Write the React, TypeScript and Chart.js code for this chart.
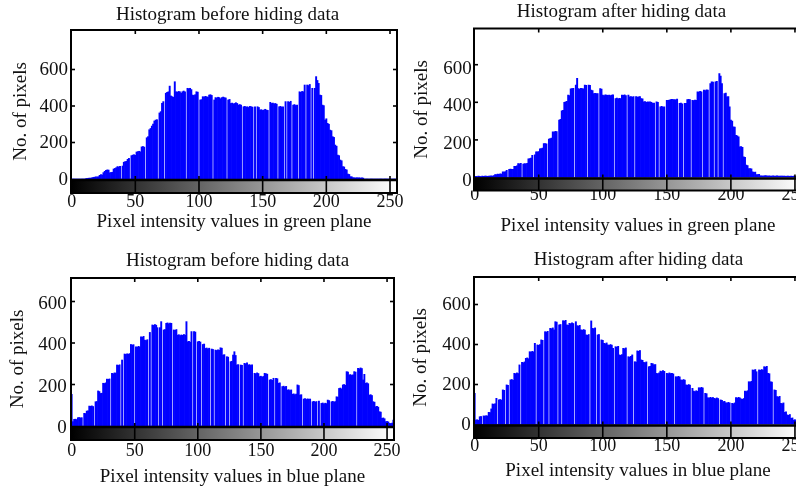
import React, { useEffect, useRef } from "react";
import { Chart, registerables } from "chart.js";

Chart.register(...registerables);

// Intensity bins 0..255
const BINS: number[] = Array.from({ length: 256 }, (_, i) => i);
const X_TICKS = [0, 50, 100, 150, 200, 250];
const Y_TICKS = [0, 200, 400, 600];

// Green plane, before hiding
const GREEN_BEFORE = [
  0, 0, 0, 0, 0, 0, 0, 0, 0, 0, 0, 2, 3, 4, 5, 5,
  6, 9, 10, 12, 11, 13, 20, 24, 22, 35, 42, 47, 50, 49, 34, 36,
  37, 55, 58, 62, 68, 66, 70, 0, 71, 92, 95, 97, 108, 113, 0, 128,
  131, 133, 130, 148, 150, 152, 149, 176, 178, 175, 0, 226, 232, 270, 277, 290,
  301, 318, 323, 325, 0, 362, 369, 415, 424, 0, 470, 475, 478, 509, 455, 451,
  448, 533, 478, 476, 480, 478, 470, 478, 482, 478, 0, 497, 495, 497, 490, 460,
  458, 462, 478, 476, 0, 433, 435, 451, 449, 453, 451, 448, 460, 462, 458, 0,
  433, 446, 444, 448, 446, 440, 446, 449, 446, 444, 0, 433, 436, 414, 416, 412,
  414, 418, 414, 405, 408, 405, 0, 396, 398, 394, 396, 392, 398, 396, 394, 0,
  396, 0, 396, 392, 378, 380, 376, 378, 382, 378, 376, 0, 420, 414, 416, 412,
  414, 410, 0, 396, 398, 394, 396, 0, 424, 0, 424, 420, 426, 0, 405, 408,
  403, 405, 0, 478, 475, 480, 478, 515, 0, 515, 512, 518, 0, 497, 0, 497,
  561, 540, 524, 460, 458, 405, 402, 323, 330, 305, 300, 268, 265, 232, 228, 186,
  180, 131, 128, 104, 100, 68, 66, 53, 50, 27, 25, 13, 12, 7, 7, 6,
  7, 6, 7, 5, 6, 5, 0, 0, 0, 0, 0, 0, 0, 0, 0, 0,
  0, 0, 0, 0, 0, 0, 0, 0, 0, 0, 0, 0, 0, 0, 0, 0,
];

// Green plane, after hiding
const GREEN_AFTER = [
  5, 6, 5, 7, 6, 5, 7, 6, 8, 7, 6, 8, 7, 9, 8, 10,
  16, 15, 18, 17, 19, 18, 30, 29, 31, 38, 0, 44, 45, 43, 44, 59,
  60, 62, 74, 73, 75, 0, 71, 74, 73, 76, 100, 101, 103, 118, 0, 120,
  137, 136, 138, 152, 154, 156, 180, 181, 179, 0, 205, 207, 210, 243, 242, 246,
  244, 0, 305, 310, 355, 358, 400, 402, 405, 438, 436, 472, 473, 475, 0, 491,
  527, 473, 470, 475, 473, 472, 491, 490, 0, 492, 490, 465, 462, 447, 448, 447,
  446, 0, 473, 470, 438, 436, 440, 438, 437, 439, 436, 438, 440, 0, 420, 422,
  419, 421, 420, 438, 437, 440, 436, 0, 438, 429, 430, 428, 431, 0, 430, 428,
  429, 431, 420, 418, 402, 404, 400, 402, 401, 403, 400, 394, 396, 0, 402, 400,
  0, 376, 378, 374, 376, 0, 411, 410, 412, 415, 416, 414, 415, 413, 417, 0,
  394, 396, 392, 0, 394, 395, 415, 416, 414, 0, 411, 409, 412, 410, 456, 455,
  458, 456, 0, 465, 463, 466, 465, 0, 500, 509, 507, 0, 509, 511, 0, 553,
  540, 500, 0, 447, 449, 429, 431, 376, 305, 300, 269, 268, 225, 222, 216, 163,
  165, 160, 110, 108, 66, 64, 48, 47, 46, 30, 28, 29, 16, 15, 17, 9,
  9, 8, 9, 10, 9, 8, 9, 7, 8, 9, 8, 7, 9, 8, 7, 8,
  7, 8, 7, 6, 7, 8, 6, 7, 6, 7, 5, 6, 7, 6, 5, 6,
];

// Blue plane, before hiding
const BLUE_BEFORE = [
  153, 21, 32, 33, 31, 40, 41, 39, 40, 0, 61, 60, 72, 73, 96, 95,
  97, 94, 0, 117, 118, 169, 166, 157, 158, 206, 205, 208, 226, 225, 227, 0,
  254, 252, 256, 255, 294, 292, 295, 0, 318, 0, 347, 345, 348, 346, 349, 393,
  390, 392, 0, 382, 380, 384, 381, 430, 428, 432, 414, 412, 416, 0, 451, 0,
  487, 485, 489, 486, 474, 0, 474, 503, 0, 463, 465, 495, 497, 493, 496, 495,
  0, 463, 461, 465, 438, 440, 436, 439, 437, 441, 438, 503, 406, 408, 404, 455,
  0, 455, 453, 0, 406, 408, 405, 0, 393, 395, 374, 376, 372, 375, 0, 371,
  369, 0, 366, 364, 367, 365, 377, 375, 342, 344, 0, 334, 332, 0, 310, 312,
  342, 358, 340, 294, 296, 0, 294, 292, 0, 302, 300, 304, 294, 296, 292, 295,
  0, 254, 252, 256, 253, 238, 240, 236, 239, 254, 252, 250, 0, 222, 224, 220,
  230, 0, 230, 228, 206, 208, 0, 190, 192, 188, 191, 173, 175, 171, 174, 153,
  155, 151, 154, 198, 195, 149, 151, 0, 130, 132, 128, 131, 129, 130, 0, 117,
  119, 115, 118, 0, 120, 0, 109, 111, 107, 110, 108, 125, 123, 0, 117, 119,
  115, 118, 141, 139, 181, 183, 179, 198, 200, 196, 262, 260, 246, 248, 244, 247,
  262, 260, 0, 278, 276, 280, 277, 222, 249, 206, 208, 204, 149, 151, 147, 117,
  115, 93, 95, 91, 69, 67, 37, 39, 35, 21, 22, 20, 13, 12, 14, 29,
];

// Blue plane, after hiding
const BLUE_AFTER = [
  156, 22, 24, 21, 39, 40, 0, 43, 42, 44, 43, 61, 60, 78, 103, 101,
  104, 131, 0, 123, 125, 122, 173, 171, 0, 198, 196, 0, 223, 225, 221, 256,
  254, 258, 255, 298, 0, 311, 309, 313, 331, 333, 329, 364, 362, 366, 363, 406,
  0, 398, 396, 400, 423, 421, 0, 464, 462, 466, 0, 481, 479, 483, 473, 514,
  512, 0, 498, 500, 0, 519, 517, 521, 498, 496, 506, 504, 508, 505, 0, 514,
  494, 492, 496, 473, 471, 475, 472, 448, 446, 450, 0, 518, 481, 479, 483, 0,
  448, 450, 0, 423, 421, 406, 404, 408, 398, 396, 400, 397, 381, 0, 389, 387,
  391, 348, 346, 350, 381, 379, 383, 0, 339, 337, 341, 348, 0, 314, 312, 368,
  366, 370, 323, 321, 311, 309, 313, 0, 289, 291, 306, 304, 298, 300, 256, 254,
  258, 267, 265, 269, 266, 0, 256, 254, 258, 255, 256, 253, 0, 239, 237, 241,
  238, 223, 221, 225, 222, 198, 196, 200, 197, 0, 181, 167, 165, 169, 166, 184,
  182, 186, 183, 0, 156, 154, 134, 132, 136, 133, 135, 131, 129, 133, 130, 0,
  123, 121, 114, 116, 109, 107, 111, 108, 0, 106, 104, 108, 134, 132, 136, 133,
  128, 126, 130, 167, 165, 169, 214, 212, 216, 273, 271, 275, 264, 0, 273, 271,
  275, 272, 289, 287, 291, 256, 254, 214, 212, 0, 173, 171, 139, 137, 141, 106,
  104, 108, 61, 63, 48, 46, 50, 31, 33, 22, 24, 21, 25, 23, 26, 24,
];

const FONT = "'Liberation Serif', 'Times New Roman', serif";
const TEXT = "#111";
const BAR = "#0000ff";

type Panel = {
  key: string;
  title: string;
  xTitle: string;
  counts: number[];
  left: number;
  top: number;
  width: number;
  height: number;
  yAxisWidth: number;
  rightGap: number;
  xAxisHeight: number;
  yMin: number;
  yMax: number;
  titlePad: { top: number; bottom: number };
  xTickPad: number;
  xTitlePad: number;
  yTitlePad: number;
  yTickPad: number;
  yLabelShift: number;
  zeroLabelShift: number;
};

const PANELS: Panel[] = [
  {
    key: "gb", title: "Histogram before hiding data", xTitle: "Pixel intensity values in green plane",
    counts: GREEN_BEFORE, left: 0, top: 0, width: 455, height: 245,
    yAxisWidth: 71, rightGap: 58, xAxisHeight: 52, yMin: -76.7, yMax: 816.4,
    titlePad: { top: 3.9, bottom: 3.3 }, xTickPad: 0, xTitlePad: 11.5, yTitlePad: 9.2, yTickPad: 3,
    yLabelShift: 1, zeroLabelShift: -6,
  },
  {
    key: "ga", title: "Histogram after hiding data", xTitle: "Pixel intensity values in green plane",
    counts: GREEN_AFTER, left: 400, top: 0, width: 443, height: 245,
    yAxisWidth: 74, rightGap: 41, xAxisHeight: 54.5, yMin: -69.1, yMax: 792.6,
    titlePad: { top: 0.8, bottom: 4.9 }, xTickPad: -4, xTitlePad: 7.3, yTitlePad: 10.8, yTickPad: 2.3,
    yLabelShift: 4, zeroLabelShift: 3,
  },
  {
    key: "bb", title: "Histogram before hiding data", xTitle: "Pixel intensity values in blue plane",
    counts: BLUE_BEFORE, left: 0, top: 245, width: 475, height: 246,
    yAxisWidth: 71, rightGap: 81, xAxisHeight: 51, yMin: -67.5, yMax: 713.3,
    titlePad: { top: 4.9, bottom: 5.3 }, xTickPad: 2.7, xTitlePad: 2.7, yTitlePad: 6.2, yTickPad: 4.3,
    yLabelShift: 2.5, zeroLabelShift: 0.5,
  },
  {
    key: "ba", title: "Histogram after hiding data", xTitle: "Pixel intensity values in blue plane",
    counts: BLUE_AFTER, left: 400, top: 245, width: 477, height: 246,
    yAxisWidth: 74, rightGap: 75, xAxisHeight: 53, yMin: -67.5, yMax: 737.5,
    titlePad: { top: 3.9, bottom: 5.3 }, xTickPad: -0.8, xTitlePad: 8.7, yTitlePad: 9.8, yTickPad: 3.3,
    yLabelShift: 1, zeroLabelShift: -1,
  },
];

// Axes box, inward tick marks and the grey-level colour bar below the bars
const imhistFrame = {
  id: "imhistFrame",
  afterDatasetsDraw(chart: any) {
    const { ctx, chartArea: a, scales } = chart;
    const x = scales.x;
    const y = scales.y;
    const y0 = y.getPixelForValue(0);
    const seg = (x1: number, y1: number, x2: number, y2: number) => {
      ctx.beginPath();
      ctx.moveTo(x1, y1);
      ctx.lineTo(x2, y2);
      ctx.stroke();
    };
    ctx.save();
    const g = ctx.createLinearGradient(x.getPixelForValue(0), 0, x.getPixelForValue(255), 0);
    g.addColorStop(0, "#000000");
    g.addColorStop(1, "#ffffff");
    ctx.fillStyle = g;
    ctx.fillRect(a.left, y0, a.right - a.left, a.bottom - y0);

    ctx.strokeStyle = "#000";
    ctx.lineWidth = 1.6;
    for (const v of X_TICKS) {
      if (v === 0) continue;
      const px = x.getPixelForValue(v);
      seg(px, y0, px, a.bottom);
      seg(px, a.top, px, a.top + 4);
      seg(px, y0 - 3, px, y0);
    }
    for (const v of Y_TICKS) {
      if (v === 0) continue;
      const py = y.getPixelForValue(v);
      seg(a.left, py, a.left + 4, py);
      seg(a.right - 4, py, a.right, py);
    }
    ctx.lineWidth = 2;
    ctx.strokeRect(a.left, a.top, a.right - a.left, a.bottom - a.top);
    ctx.lineWidth = 2.6;
    seg(a.left, y0 + 1, a.right, y0 + 1);
    ctx.restore();
  },
};

function HistogramPanel({ panel }: { panel: Panel }) {
  const ref = useRef<HTMLCanvasElement | null>(null);

  useEffect(() => {
    if (!ref.current) return;
    const p = panel;
    const chart = new Chart(ref.current, {
      type: "bar",
      data: {
        datasets: [
          {
            data: p.counts.map((v, i) => ({ x: BINS[i], y: v })),
            backgroundColor: BAR,
            borderWidth: 0,
            barPercentage: 1,
            categoryPercentage: 1,
          } as any,
        ],
      },
      options: {
        animation: false,
        responsive: false,
        maintainAspectRatio: false,
        devicePixelRatio: 1,
        events: [],
        layout: { padding: 0 },
        plugins: {
          legend: { display: false },
          tooltip: { enabled: false },
          title: {
            display: true,
            text: p.title,
            color: TEXT,
            font: { family: FONT, size: 19, weight: "normal", lineHeight: 1.2 },
            padding: p.titlePad,
          },
        },
        scales: {
          x: {
            type: "linear",
            position: "bottom",
            min: -0.5,
            max: 255.5,
            offset: false,
            afterBuildTicks: (s: any) => {
              s.ticks = X_TICKS.map((v) => ({ value: v }));
            },
            afterFit: (s: any) => {
              s.height = p.xAxisHeight;
            },
            grid: { display: false, drawTicks: false },
            border: { display: false },
            ticks: {
              autoSkip: false,
              maxRotation: 0,
              padding: p.xTickPad,
              color: TEXT,
              font: { family: FONT, size: 18, lineHeight: 1 },
            },
            title: {
              display: true,
              text: p.xTitle,
              color: TEXT,
              font: { family: FONT, size: 19, lineHeight: 1.2 },
              padding: { top: 0, bottom: p.xTitlePad },
            },
          },
          y: {
            type: "linear",
            position: "left",
            min: p.yMin,
            max: p.yMax,
            afterBuildTicks: (s: any) => {
              s.ticks = Y_TICKS.map((v) => ({ value: v }));
            },
            afterFit: (s: any) => {
              s.width = p.yAxisWidth;
            },
            grid: { display: false, drawTicks: false },
            border: { display: false },
            ticks: {
              padding: p.yTickPad,
              labelOffset: (c: any) => (c.tick && c.tick.value === 0 ? p.zeroLabelShift : p.yLabelShift),
              color: TEXT,
              font: { family: FONT, size: 19, lineHeight: 1.2 },
            },
            title: {
              display: true,
              text: "No. of pixels",
              color: TEXT,
              font: { family: FONT, size: 19, lineHeight: 1.2 },
              padding: { top: p.yTitlePad, bottom: 0 },
            },
          },
          yRight: {
            type: "linear",
            position: "right",
            display: true,
            grid: { display: false, drawTicks: false },
            border: { display: false },
            ticks: { display: false },
            afterFit: (s: any) => {
              s.width = p.rightGap;
            },
          },
        },
      } as any,
      plugins: [imhistFrame],
    });
    return () => chart.destroy();
  }, [panel]);

  return (
    <canvas
      ref={ref}
      width={panel.width}
      height={panel.height}
      style={{
        position: "absolute",
        left: panel.left,
        top: panel.top,
        width: panel.width,
        height: panel.height,
      }}
    />
  );
}

export default function App() {
  return (
    <div
      style={{
        position: "fixed",
        left: 0,
        top: 0,
        width: 796,
        height: 491,
        overflow: "hidden",
        background: "#ffffff",
      }}
    >
      {PANELS.map((p) => (
        <HistogramPanel key={p.key} panel={p} />
      ))}
    </div>
  );
}
